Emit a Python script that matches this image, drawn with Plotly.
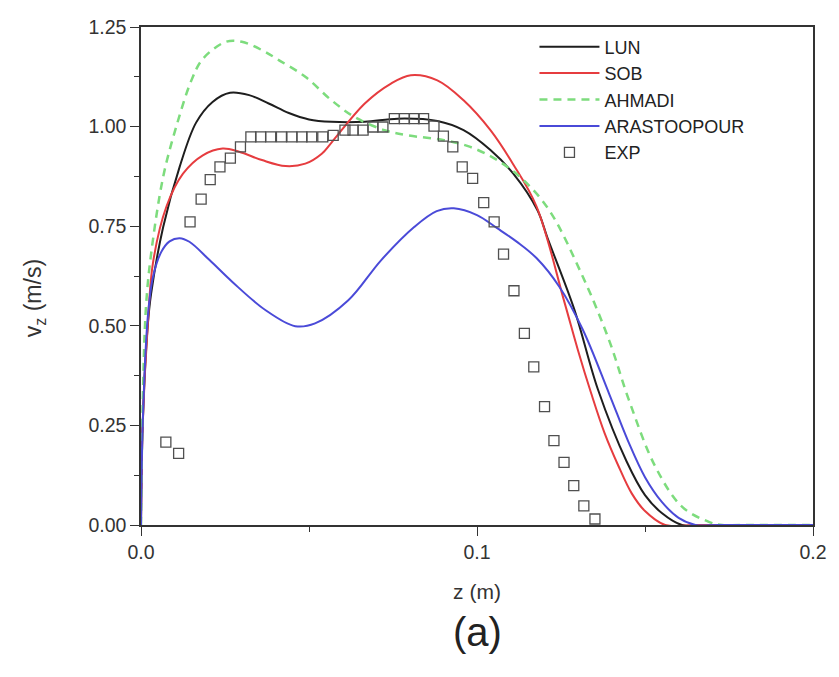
import plotly.graph_objects as go

# ---- data ----
lun_x = [0, 0.0005, 0.002, 0.003, 0.0066, 0.0115, 0.0164, 0.0213, 0.0265, 0.0322, 0.038, 0.044, 0.050,
         0.0567, 0.0666, 0.0764, 0.0882, 0.096, 0.104, 0.1108, 0.118, 0.121, 0.129, 0.136, 0.1445,
         0.150, 0.155, 0.161, 0.17, 0.2]
lun_y = [0, 0.25, 0.50, 0.58, 0.748, 0.899, 1.010, 1.062, 1.085, 1.079, 1.058, 1.034, 1.018,
         1.012, 1.012, 1.020, 1.014, 0.991, 0.941, 0.882, 0.79, 0.72, 0.54, 0.34, 0.16,
         0.075, 0.03, 0.0, 0.0, 0.0]

sob_x = [0, 0.0005, 0.002, 0.0036, 0.0076, 0.0125, 0.0184, 0.0243, 0.0292, 0.036, 0.043, 0.0489,
         0.0538, 0.0567, 0.0666, 0.0744, 0.0803, 0.0882, 0.096, 0.104, 0.1108, 0.1177, 0.126,
         0.130, 0.134, 0.138, 0.142, 0.146, 0.150, 0.156, 0.165, 0.2]
sob_y = [0, 0.25, 0.50, 0.66, 0.80, 0.882, 0.928, 0.945, 0.937, 0.916, 0.901, 0.907,
         0.932, 0.960, 1.058, 1.108, 1.129, 1.116, 1.066, 0.991, 0.905, 0.80, 0.56,
         0.44, 0.33, 0.23, 0.15, 0.08, 0.035, 0.0, 0.0, 0.0]

ahm_x = [0, 0.0005, 0.0015, 0.003, 0.0066, 0.0105, 0.015, 0.0184, 0.0253, 0.030, 0.036, 0.041,
         0.0489, 0.0567, 0.0636, 0.0725, 0.0794, 0.0902, 0.098, 0.106, 0.1138, 0.1215, 0.1315,
         0.1393, 0.1452, 0.1531, 0.161, 0.169, 0.173, 0.18, 0.2]
ahm_y = [0, 0.30, 0.55, 0.68, 0.874, 1.0, 1.116, 1.170, 1.213, 1.213, 1.192, 1.167,
         1.125, 1.066, 1.024, 0.991, 0.978, 0.966, 0.949, 0.916, 0.866, 0.79, 0.623,
         0.464, 0.314, 0.146, 0.046, 0.008, 0.0, 0.0, 0.0]

ara_x = [0, 0.0005, 0.002, 0.0035, 0.006, 0.0085, 0.0115, 0.0144, 0.0204, 0.0272, 0.0371, 0.0459,
         0.0518, 0.0617, 0.0715, 0.0813, 0.0880, 0.0931, 0.100, 0.106, 0.112, 0.1177, 0.1245,
         0.1315, 0.1393, 0.145, 0.150, 0.155, 0.160, 0.165, 0.172, 0.2]
ara_y = [0, 0.25, 0.52, 0.62, 0.685, 0.712, 0.720, 0.711, 0.665, 0.61, 0.539, 0.499,
         0.506, 0.564, 0.665, 0.748, 0.788, 0.795, 0.778, 0.745, 0.71, 0.67, 0.598,
         0.49, 0.33, 0.21, 0.12, 0.058, 0.018, 0.0, 0.0, 0.0]

exp_x = [0.0074, 0.0112, 0.0146, 0.0179, 0.0206, 0.0235, 0.0266, 0.0296, 0.0327, 0.0356, 0.0386,
         0.0418, 0.0449, 0.0479, 0.0508, 0.0541, 0.0572, 0.0607, 0.0631, 0.0661, 0.0690, 0.0720,
         0.0754, 0.0784, 0.0813, 0.0841, 0.0872, 0.0900, 0.0928, 0.0956, 0.0987, 0.1020, 0.1051,
         0.1079, 0.1110, 0.1141, 0.1169, 0.1201, 0.1229, 0.1259, 0.1288, 0.1318, 0.1351]
exp_y = [0.208, 0.180, 0.761, 0.818, 0.867, 0.899, 0.921, 0.949, 0.974, 0.974, 0.974,
         0.974, 0.974, 0.974, 0.974, 0.974, 0.978, 0.991, 0.991, 0.991, 0.999, 0.999,
         1.020, 1.020, 1.020, 1.020, 1.001, 0.976, 0.949, 0.899, 0.870, 0.809, 0.761,
         0.680, 0.588, 0.481, 0.397, 0.297, 0.212, 0.157, 0.099, 0.048, 0.015]

x_ticks = [0.0, 0.1, 0.2]
x_tick_labels = ["0.0", "0.1", "0.2"]
y_ticks = [0.00, 0.25, 0.50, 0.75, 1.00, 1.25]
y_tick_labels = ["0.00", "0.25", "0.50", "0.75", "1.00", "1.25"]

FONT = "Liberation Sans, Arial, sans-serif"
SPL = dict(shape="spline", smoothing=1.0)

fig = go.Figure()
fig.add_trace(go.Scatter(x=lun_x, y=lun_y, mode="lines", name="LUN",
                         line=dict(color="#1e1e1e", width=2, **SPL)))
fig.add_trace(go.Scatter(x=sob_x, y=sob_y, mode="lines", name="SOB",
                         line=dict(color="#e63c3f", width=2, **SPL)))
fig.add_trace(go.Scatter(x=ahm_x, y=ahm_y, mode="lines", name="AHMADI",
                         line=dict(color="#7ddc7d", width=2.5, dash="8px,6px", **SPL)))
fig.add_trace(go.Scatter(x=ara_x, y=ara_y, mode="lines", name="ARASTOOPOUR",
                         line=dict(color="#4a4ad8", width=2, **SPL)))
fig.add_trace(go.Scatter(x=exp_x, y=exp_y, mode="markers", name="EXP",
                         marker=dict(symbol="square-open", size=10, color="#505050",
                                     line=dict(width=1.3, color="#505050"))))

axis_common = dict(showgrid=False, zeroline=False, showline=True, linecolor="#333333", linewidth=1.5,
                   mirror=True, ticks="outside", ticklen=9, tickwidth=1.3, tickcolor="#333333",
                   tickfont=dict(family=FONT, size=19.5, color="#333333"))

fig.update_xaxes(range=[0, 0.2], tickvals=x_ticks, ticktext=x_tick_labels,
                 minor=dict(tickvals=[0.05, 0.15], ticks="outside", ticklen=5, tickwidth=1.2,
                            tickcolor="#333333"),
                 title=dict(text="z (m)", font=dict(family=FONT, size=21, color="#333333"), standoff=22),
                 **axis_common)
fig.update_yaxes(range=[0, 1.25], tickvals=y_ticks, ticktext=y_tick_labels,
                 minor=dict(tickvals=[0.125, 0.375, 0.625, 0.875, 1.125], ticks="outside", ticklen=5,
                            tickwidth=1.2, tickcolor="#333333"),
                 **axis_common)

# y-axis title (rotated text, slightly below the axis centre as in the reference)
fig.add_annotation(text="v<sub>z</sub> (m/s)", x=-0.158, y=0.455, xref="paper", yref="paper",
                   showarrow=False, textangle=-90, xanchor="center", yanchor="middle",
                   font=dict(family=FONT, size=23, color="#333333"))

fig.add_annotation(text="(a)", x=0.5, y=-0.215, xref="paper", yref="paper", showarrow=False,
                   xanchor="center", yanchor="middle", font=dict(family=FONT, size=40, color="#222222"))

fig.update_layout(
    width=839, height=677,
    margin=dict(l=141, r=20, t=27, b=152),
    paper_bgcolor="white", plot_bgcolor="white",
    showlegend=True,
    legend=dict(x=0.5855, y=0.997, xanchor="left", yanchor="top", bgcolor="rgba(0,0,0,0)",
                font=dict(family=FONT, size=18, color="#222222"), tracegroupgap=0,
                itemwidth=60),
)

fig.write_html("out.html")
